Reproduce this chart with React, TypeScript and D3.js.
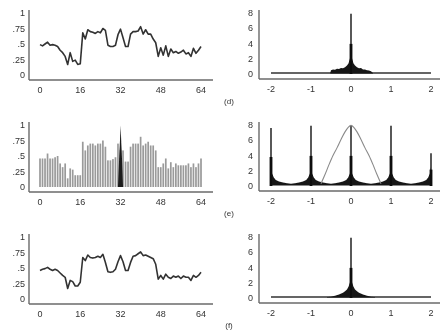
import React from 'react';
import * as d3 from 'd3';

// ---- tick labels ----
const timeTicks = [0, 16, 32, 48, 64];
const timeTickLabels = ['0', '16', '32', '48', '64'];
const valueTicks = [0, 0.25, 0.5, 0.75, 1];
const valueTickLabels = ['0', '.25', '.5', '.75', '1'];
const freqTicks = [-2, -1, 0, 1, 2];
const freqTickLabels = ['-2', '-1', '0', '1', '2'];
const magTicks = [0, 2, 4, 6, 8];
const magTickLabels = ['0', '2', '4', '6', '8'];
const panelLabels = ['(d)', '(e)', '(f)'];

// ---- left column signals (index 0..64) ----
const signalD = [
  0.49, 0.47, 0.50, 0.53, 0.48, 0.49, 0.48, 0.46, 0.40, 0.36,
  0.30, 0.17, 0.36, 0.22, 0.24, 0.17, 0.18, 0.68, 0.58, 0.73,
  0.70, 0.69, 0.67, 0.70, 0.68, 0.75, 0.72, 0.48, 0.46, 0.46,
  0.48, 0.65, 0.74, 0.60, 0.46, 0.46, 0.66, 0.70, 0.70, 0.71,
  0.78, 0.66, 0.73, 0.66, 0.66, 0.58, 0.52, 0.30, 0.44, 0.32,
  0.47, 0.30, 0.42, 0.36, 0.38, 0.35, 0.37, 0.40, 0.34, 0.36,
  0.30, 0.43, 0.35, 0.40, 0.46,
];
const barsE = [
  0.46, 0.46, 0.46, 0.54, 0.46, 0.46, 0.48, 0.50, 0.38, 0.32,
  0.38, 0.14, 0.30, 0.28, 0.19, 0.19, 0.19, 0.73, 0.59, 0.67,
  0.70, 0.70, 0.67, 0.70, 0.70, 0.75, 0.65, 0.43, 0.43, 0.45,
  0.48, 0.70, 0.60, 0.59, 0.41, 0.41, 0.65, 0.70, 0.70, 0.70,
  0.81, 0.67, 0.70, 0.73, 0.67, 0.67, 0.59, 0.32, 0.32, 0.38,
  0.46, 0.30, 0.40, 0.32, 0.38, 0.35, 0.35, 0.35, 0.35, 0.38,
  0.32, 0.38, 0.32, 0.38, 0.46,
];
const spikeEIdx = [31.0, 31.5, 31.8, 32.05, 32.3, 32.6, 33.0];
const spikeEVal = [0.0, 0.5, 0.75, 0.99, 0.72, 0.45, 0.0];
const signalF = [
  0.46, 0.48, 0.49, 0.51, 0.48, 0.46, 0.48, 0.46, 0.42, 0.38,
  0.35, 0.17, 0.30, 0.28, 0.21, 0.21, 0.27, 0.67, 0.62, 0.71,
  0.67, 0.66, 0.67, 0.69, 0.67, 0.72, 0.59, 0.44, 0.43, 0.44,
  0.48, 0.60, 0.70, 0.60, 0.46, 0.46, 0.59, 0.69, 0.70, 0.73,
  0.76, 0.70, 0.71, 0.69, 0.67, 0.65, 0.56, 0.32, 0.38, 0.32,
  0.40, 0.35, 0.33, 0.37, 0.35, 0.37, 0.33, 0.37, 0.35, 0.35,
  0.30, 0.38, 0.35, 0.38, 0.43,
];

// ---- right column spectra ----
const baseF = [-2, 2];
const baseV = [0.12, 0.12];

const dBandF = [-0.52, -0.5, -0.45, -0.4, -0.35, -0.3, -0.25, -0.2, -0.15, -0.1, -0.06, -0.03, 0,
  0.03, 0.06, 0.1, 0.15, 0.2, 0.25, 0.3, 0.35, 0.4, 0.45, 0.5, 0.55];
const dBandHi = [0.12, 0.5, 0.6, 0.55, 0.7, 0.65, 0.8, 0.75, 0.9, 1.1, 1.4, 2.0, 2.2,
  2.0, 1.4, 1.1, 0.9, 0.75, 0.8, 0.6, 0.6, 0.5, 0.45, 0.35, 0.12];
const dSpikeF = [0];
const dSpikeH = [7.9];

const eBandF = [
  -2, -1.97, -1.93, -1.88, -1.8, -1.7, -1.6, -1.5, -1.4, -1.3, -1.2, -1.12, -1.07, -1.03,
  -1, -0.97, -0.93, -0.88, -0.8, -0.7, -0.6, -0.5, -0.4, -0.3, -0.2, -0.12, -0.07, -0.03,
  0, 0.03, 0.07, 0.12, 0.2, 0.3, 0.4, 0.5, 0.6, 0.7, 0.8, 0.88, 0.93, 0.97,
  1, 1.03, 1.07, 1.12, 1.2, 1.3, 1.4, 1.5, 1.6, 1.7, 1.8, 1.88, 1.93, 1.97,
  2,
];
const eBandHi = [
  2.5, 1.6, 1.1, 0.8, 0.6, 0.45, 0.35, 0.3, 0.35, 0.45, 0.6, 0.8, 1.1, 1.6,
  2.5, 1.6, 1.1, 0.8, 0.6, 0.45, 0.35, 0.3, 0.35, 0.45, 0.6, 0.8, 1.1, 1.6,
  2.5, 1.6, 1.1, 0.8, 0.6, 0.45, 0.35, 0.3, 0.35, 0.45, 0.6, 0.8, 1.1, 1.6,
  2.5, 1.6, 1.1, 0.8, 0.6, 0.45, 0.35, 0.3, 0.35, 0.45, 0.6, 0.8, 1.1, 1.6,
  2.5,
];
const eSpikeF = [-2, -1, 0, 1, 2];
const eSpikeH = [7.6, 7.9, 7.9, 7.9, 4.3];
const eBellF = [-0.75, -0.65, -0.55, -0.45, -0.35, -0.25, -0.15, -0.07, 0,
  0.07, 0.15, 0.25, 0.35, 0.45, 0.55, 0.65, 0.75];
const eBellV = [0.3, 1.5, 2.8, 4.0, 5.0, 6.1, 7.1, 7.7, 7.95,
  7.7, 7.1, 6.1, 5.0, 4.0, 2.8, 1.5, 0.3];

const fBandF = [-0.6, -0.5, -0.4, -0.3, -0.2, -0.15, -0.1, -0.06, -0.03, 0,
  0.03, 0.06, 0.1, 0.15, 0.2, 0.3, 0.4, 0.5, 0.6];
const fBandHi = [0.12, 0.18, 0.3, 0.45, 0.7, 0.9, 1.1, 1.5, 2.0, 2.3,
  2.0, 1.5, 1.1, 0.9, 0.7, 0.45, 0.3, 0.18, 0.12];
const fSpikeF = [0];
const fSpikeH = [7.9];

const OFFS = [0, 112, 224];
const FONT = "'Liberation Sans', Arial, sans-serif";
const AXIS = '#6a6a6a';
const TXT = '#333';
const FS = 9;

const xL = d3.scaleLinear().domain([0, 64]).range([40, 201]);
const xR = d3.scaleLinear().domain([-2, 2]).range([271, 431]);
const yLf = (off: number) => d3.scaleLinear().domain([0, 1]).range([75 + off, 13 + off]);
const yRf = (off: number) => d3.scaleLinear().domain([0, 8]).range([74 + off, 13 + off]);

function LeftAxes({ off }: { off: number }) {
  const y = yLf(off);
  return (
    <g>
      <line x1={29} x2={29} y1={10 + off} y2={80 + off} stroke={AXIS} strokeWidth={1.4} />
      <line x1={29} x2={213} y1={80 + off} y2={80 + off} stroke={AXIS} strokeWidth={1.4} />
      {valueTicks.map((v, i) => (
        <text key={i} x={25} y={y(v)} dy="0.35em" textAnchor="end" fontSize={FS} fill={TXT} fontFamily={FONT}>
          {valueTickLabels[i]}
        </text>
      ))}
      {timeTicks.map((t, i) => (
        <text key={i} x={xL(t)} y={90 + off} dy="0.35em" textAnchor="middle" fontSize={FS} fill={TXT} fontFamily={FONT}>
          {timeTickLabels[i]}
        </text>
      ))}
    </g>
  );
}

function RightAxes({ off, label }: { off: number; label: string }) {
  const y = yRf(off);
  return (
    <g>
      <line x1={259} x2={259} y1={10 + off} y2={79 + off} stroke={AXIS} strokeWidth={1.4} />
      <line x1={259} x2={440} y1={79 + off} y2={79 + off} stroke={AXIS} strokeWidth={1.4} />
      {magTicks.map((v, i) => (
        <text key={i} x={253} y={y(v)} dy="0.35em" textAnchor="end" fontSize={FS} fill={TXT} fontFamily={FONT}>
          {magTickLabels[i]}
        </text>
      ))}
      {freqTicks.map((t, i) => (
        <text key={i} x={xR(t)} y={89 + off} dy="0.35em" textAnchor="middle" fontSize={FS} fill={TXT} fontFamily={FONT}>
          {freqTickLabels[i]}
        </text>
      ))}
      <text x={229} y={101 + off} dy="0.35em" textAnchor="middle" fontSize={8} fill={TXT} fontFamily={FONT}>
        {label}
      </text>
    </g>
  );
}

function SignalLine({ data, off }: { data: number[]; off: number }) {
  const y = yLf(off);
  const gen = d3.line<number>().x((_, i) => xL(i)).y((d) => y(d));
  return <path d={gen(data) || ''} fill="none" stroke="#333" strokeWidth={1.6} strokeLinejoin="round" />;
}

function Spectrum({ off, bandF, bandHi, spikeF, spikeH, base }: {
  off: number; bandF: number[]; bandHi: number[]; spikeF: number[]; spikeH: number[]; base: boolean;
}) {
  const y = yRf(off);
  const area = d3.area<number>().x((_, i) => xR(bandF[i])).y0(y(0.05)).y1((d) => y(d));
  const baseLine = d3.line<number>().x((_, i) => xR(baseF[i])).y((d) => y(d));
  return (
    <g>
      {base && <path d={baseLine(baseV) || ''} stroke="#333" strokeWidth={1.5} fill="none" />}
      <path d={area(bandHi) || ''} fill="#151515" />
      {spikeF.map((f, i) => (
        <g key={i}>
          <line x1={xR(f)} x2={xR(f)} y1={y(0)} y2={y(spikeH[i])} stroke="#111" strokeWidth={1.4} />
          <line x1={xR(f)} x2={xR(f)} y1={y(0)} y2={y(spikeH[i] * 0.5)} stroke="#111" strokeWidth={2.8} />
        </g>
      ))}
    </g>
  );
}

export default function App() {
  const yE = yLf(OFFS[1]);
  const spikeArea = d3.area<number>().x((_, i) => xL(spikeEIdx[i])).y0(yE(0)).y1((d) => yE(d));
  const yRe = yRf(OFFS[1]);
  const bell = d3.line<number>().x((_, i) => xR(eBellF[i])).y((d) => yRe(d)).curve(d3.curveMonotoneX);
  return (
    <svg width={440} height={336} style={{ position: 'absolute', left: 0, top: 0, background: '#fff' }}>
      <defs>
        <filter id="soft" x="-5%" y="-5%" width="110%" height="110%">
          <feGaussianBlur stdDeviation={0.45} />
        </filter>
      </defs>
      <rect width={440} height={336} fill="#fff" />
      <g filter="url(#soft)">
        {/* (d) */}
        <LeftAxes off={OFFS[0]} />
        <SignalLine data={signalD} off={OFFS[0]} />
        <RightAxes off={OFFS[0]} label={panelLabels[0]} />
        <Spectrum off={OFFS[0]} bandF={dBandF} bandHi={dBandHi} spikeF={dSpikeF} spikeH={dSpikeH} base />

        {/* (e) */}
        <LeftAxes off={OFFS[1]} />
        {barsE.map((v, i) => (
          <rect key={i} x={xL(i) - 0.85} width={1.7} y={yE(v)} height={yE(0) - yE(v)} fill="#9a9a9a" />
        ))}
        <path d={spikeArea(spikeEVal) || ''} fill="#1a1a1a" />
        <RightAxes off={OFFS[1]} label={panelLabels[1]} />
        <Spectrum off={OFFS[1]} bandF={eBandF} bandHi={eBandHi} spikeF={eSpikeF} spikeH={eSpikeH} base={false} />
        <path d={bell(eBellV) || ''} fill="none" stroke="#8a8a8a" strokeWidth={1.1} />

        {/* (f) */}
        <LeftAxes off={OFFS[2]} />
        <SignalLine data={signalF} off={OFFS[2]} />
        <RightAxes off={OFFS[2]} label={panelLabels[2]} />
        <Spectrum off={OFFS[2]} bandF={fBandF} bandHi={fBandHi} spikeF={fSpikeF} spikeH={fSpikeH} base />
      </g>
    </svg>
  );
}
